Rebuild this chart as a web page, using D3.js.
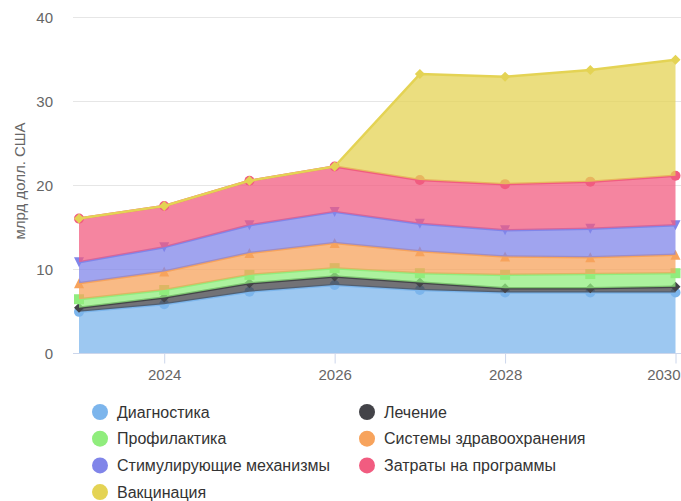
<!DOCTYPE html>
<html>
<head>
<meta charset="utf-8">
<script src="https://cdn.jsdelivr.net/npm/d3@7"></script>
<style>
  html, body { margin: 0; padding: 0; background: #fff; }
  svg { display: block; font-family: "Liberation Sans", Arial, Helvetica, sans-serif; }
</style>
</head>
<body>
<svg id="chart" width="681" height="501"></svg>
<script>
// Years on the x axis
const years = [2023, 2024, 2025, 2026, 2027, 2028, 2029, 2030];

// Spending by category, billions of US dollars (stacked bottom to top)
const diagnostika     = [4.9, 5.8, 7.3, 8.1, 7.5, 7.2, 7.2, 7.2];
const lechenie        = [0.5, 0.8, 1.0, 1.0, 0.9, 0.5, 0.5, 0.7];
const profilaktika    = [1.0, 0.9, 1.0, 1.0, 1.1, 1.6, 1.7, 1.6];
const sistemy         = [1.9, 2.2, 2.6, 3.0, 2.6, 2.2, 2.0, 2.2];
const stimuly         = [2.5, 2.9, 3.3, 3.7, 3.3, 3.1, 3.4, 3.5];
const zatraty         = [5.2, 4.9, 5.3, 5.4, 5.2, 5.5, 5.6, 5.9];
const vaktsinatsiya   = [0.0, 0.0, 0.0, 0.0, 12.6, 12.8, 13.3, 13.8];

const seriesNames = [
  "Диагностика", "Лечение", "Профилактика", "Системы здравоохранения",
  "Стимулирующие механизмы", "Затраты на программы", "Вакцинация"
];
const seriesValues = [diagnostika, lechenie, profilaktika, sistemy, stimuly, zatraty, vaktsinatsiya];
const seriesColors = ["#7cb5ec", "#434348", "#90ed7d", "#f7a35c", "#8085e9", "#f15c80", "#e4d354"];
const seriesSymbols = ["circle", "diamond", "square", "triangle", "triangle-down", "circle", "diamond"];

const yTicks = [0, 10, 20, 30, 40];
const xTicks = [2024, 2026, 2028, 2030];
const yTitle = "млрд долл. США";

const svg = d3.select("#chart");
const plot = { left: 73, right: 681, top: 17, bottom: 353 };

const x = d3.scaleLinear().domain([2023, 2030]).range([79, 675.5]);
const y = d3.scaleLinear().domain([0, 40]).range([plot.bottom, plot.top]);

// Tabular rows for the stack layout
const rows = years.map((yr, i) => {
  const r = { year: yr };
  seriesNames.forEach((n, k) => { r[n] = seriesValues[k][i]; });
  return r;
});
const stacked = d3.stack().keys(seriesNames)(rows);

// Horizontal grid lines
const grid = svg.append("g");
yTicks.forEach(t => {
  grid.append("line")
    .attr("x1", plot.left).attr("x2", plot.right)
    .attr("y1", Math.round(y(t)) + 0.5).attr("y2", Math.round(y(t)) + 0.5)
    .attr("stroke", "#e6e6e6").attr("stroke-width", 1);
});

// Y axis labels
const yAxis = d3.axisLeft(y).tickValues(yTicks).tickSize(0).tickPadding(0);
svg.append("g")
  .attr("transform", "translate(53,0)")
  .call(yAxis)
  .call(g => g.select(".domain").remove())
  .call(g => g.selectAll("text")
    .attr("font-size", 15).attr("fill", "#666")
    .attr("font-family", "'Liberation Sans', Arial, sans-serif")
    .attr("dy", "0.35em"));

// Y axis title
svg.append("text")
  .attr("transform", "translate(25,181) rotate(-90)")
  .attr("text-anchor", "middle")
  .attr("font-size", 15)
  .attr("fill", "#666")
  .text(yTitle);

// X axis; the last label is pulled inside the right edge
const xAxis = d3.axisBottom(x).tickValues(xTicks).tickFormat(d3.format("d")).tickSize(10).tickPadding(6);
svg.append("g")
  .attr("transform", `translate(0,${plot.bottom + 0.5})`)
  .call(xAxis)
  .call(g => g.select(".domain").remove())
  .call(g => g.selectAll(".tick line").attr("stroke", "#ccd6eb"))
  .call(g => g.selectAll("text")
    .attr("font-size", 15).attr("fill", "#666")
    .attr("font-family", "'Liberation Sans', Arial, sans-serif"))
  .call(g => g.selectAll(".tick")
    .filter(d => d === xTicks[xTicks.length - 1])
    .select("text")
    .attr("text-anchor", "end")
    .attr("x", plot.right - x(xTicks[xTicks.length - 1]) - 1));
svg.append("line")
  .attr("x1", plot.left).attr("x2", plot.right)
  .attr("y1", plot.bottom + 0.5).attr("y2", plot.bottom + 0.5)
  .attr("stroke", "#ccd6eb");

// Marker shapes
function symbolPath(type, cx, cy, r) {
  switch (type) {
    case "diamond":
      return `M${cx},${cy - r}L${cx + r},${cy}L${cx},${cy + r}L${cx - r},${cy}Z`;
    case "square":
      return `M${cx - r},${cy - r}H${cx + r}V${cy + r}H${cx - r}Z`;
    case "triangle":
      return `M${cx},${cy - r}L${cx + r},${cy + r}L${cx - r},${cy + r}Z`;
    case "triangle-down":
      return `M${cx - r},${cy - r}L${cx + r},${cy - r}L${cx},${cy + r}Z`;
    default:
      return `M${cx - r},${cy}a${r},${r} 0 1,0 ${2 * r},0a${r},${r} 0 1,0 ${-2 * r},0Z`;
  }
}

const area = d3.area()
  .x(d => x(d.data.year))
  .y0(d => y(d[0]))
  .y1(d => y(d[1]));
const topLine = d3.line()
  .x(d => x(d.data.year))
  .y(d => y(d[1]));

// Each layer: fill, top edge, point markers
const layers = svg.append("g");
stacked.forEach((layer, k) => {
  const g = layers.append("g");
  g.append("path")
    .attr("d", area(layer))
    .attr("fill", seriesColors[k])
    .attr("fill-opacity", 0.75);
  g.append("path")
    .attr("d", topLine(layer))
    .attr("fill", "none")
    .attr("stroke", seriesColors[k])
    .attr("stroke-width", 2.5)
    .attr("stroke-linejoin", "round");
  g.selectAll("path.marker")
    .data(layer)
    .join("path")
    .attr("class", "marker")
    .attr("d", d => symbolPath(seriesSymbols[k], x(d.data.year), y(d[1]), 5))
    .attr("fill", seriesColors[k]);
});

// Legend (two columns, row-wise)
const legend = svg.append("g");
seriesNames.forEach((name, k) => {
  const col = k % 2, row = Math.floor(k / 2);
  const lx = col === 0 ? 100 : 367;
  const ly = 412 + row * 26.7;
  legend.append("circle")
    .attr("cx", lx).attr("cy", ly).attr("r", 8)
    .attr("fill", seriesColors[k]);
  legend.append("text")
    .attr("x", lx + 17).attr("y", ly)
    .attr("dy", "0.35em")
    .attr("font-size", 16)
    .attr("fill", "#333")
    .text(name);
});
</script>
</body>
</html>
